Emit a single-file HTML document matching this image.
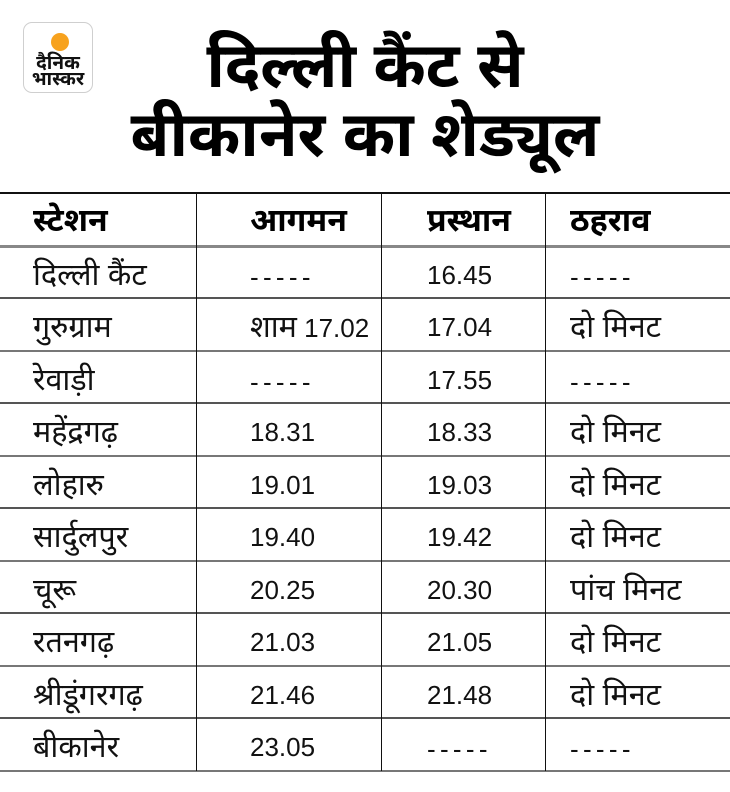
<!DOCTYPE html>
<html>
<head>
<meta charset="utf-8">
<style>
  html,body{margin:0;padding:0;background:#fff;}
  body{width:730px;height:792px;position:relative;overflow:hidden;
    font-family:"Liberation Sans","Noto Sans Devanagari","Lohit Devanagari","Mukta","Hind","FreeSans","Noto Sans CJK SC",sans-serif;color:#111;}
  .logo{position:absolute;left:23px;top:22px;width:70px;height:71px;border:1px solid #cfcfcf;border-radius:9px;box-sizing:border-box;background:#fff;}
  .sun{position:absolute;left:51px;top:33px;width:18px;height:18px;border-radius:50%;background:#f7a21e;}
  .lt{position:absolute;left:23px;width:70px;text-align:center;font-weight:bold;color:#111;font-size:19px;line-height:16px;}
  .title{position:absolute;left:0;width:730px;text-align:center;font-weight:bold;font-size:63px;line-height:69px;color:#000;white-space:nowrap;}
  .h{position:absolute;left:0;width:730px;height:2px;background:#555;}
  .v{position:absolute;top:193px;height:578px;width:1px;background:#111;}
  .c{position:absolute;font-size:26px;line-height:52px;white-space:nowrap;color:#111;margin-top:2px;}
  .c .d{font-size:30.5px;}
  .hd{font-weight:bold;line-height:53px;color:#000;font-size:32px;margin-top:1px;}
  .ds{letter-spacing:4.3px;margin-top:4px;}
</style>
</head>
<body>
  <div class="logo"></div>
  <div class="sun"></div>
  <div class="lt" style="top:56px;">दैनिक</div>
  <div class="lt" style="top:72px;">भास्कर</div>

  <div class="title" style="top:32px;">दिल्ली कैंट से</div>
  <div class="title" style="top:101px;">बीकानेर का शेड्यूल</div>

  <!-- horizontal lines -->
  <div class="h" style="top:192px;height:1.5px;background:#111;"></div>
  <div class="h" style="top:245px;height:3px;background:#888;"></div>
  <div class="h" style="top:297px;"></div>
  <div class="h" style="top:350px;background:#777;"></div>
  <div class="h" style="top:402px;"></div>
  <div class="h" style="top:455px;background:#777;"></div>
  <div class="h" style="top:507px;"></div>
  <div class="h" style="top:560px;background:#777;"></div>
  <div class="h" style="top:612px;"></div>
  <div class="h" style="top:665px;background:#777;"></div>
  <div class="h" style="top:717px;"></div>
  <div class="h" style="top:770px;background:#777;"></div>

  <!-- vertical lines -->
  <div class="v" style="left:196px;"></div>
  <div class="v" style="left:381px;"></div>
  <div class="v" style="left:545px;"></div>

  <!-- header -->
  <div class="c hd" style="left:33px;top:193px;">स्टेशन</div>
  <div class="c hd" style="left:250px;top:193px;">आगमन</div>
  <div class="c hd" style="left:427px;top:193px;">प्रस्थान</div>
  <div class="c hd" style="left:570px;top:193px;">ठहराव</div>

  <!-- rows -->
  <div class="c" style="left:33px;top:247px;"><span class="d">दिल्ली कैंट</span></div>
  <div class="c ds" style="left:250px;top:247px;">-----</div>
  <div class="c" style="left:427px;top:247px;">16.45</div>
  <div class="c ds" style="left:570px;top:247px;">-----</div>

  <div class="c" style="left:33px;top:299px;"><span class="d">गुरुग्राम</span></div>
  <div class="c" style="left:250px;top:299px;"><span class="d">शाम</span> 17.02</div>
  <div class="c" style="left:427px;top:299px;">17.04</div>
  <div class="c" style="left:570px;top:299px;"><span class="d">दो मिनट</span></div>

  <div class="c" style="left:33px;top:352px;"><span class="d">रेवाड़ी</span></div>
  <div class="c ds" style="left:250px;top:352px;">-----</div>
  <div class="c" style="left:427px;top:352px;">17.55</div>
  <div class="c ds" style="left:570px;top:352px;">-----</div>

  <div class="c" style="left:33px;top:404px;"><span class="d">महेंद्रगढ़</span></div>
  <div class="c" style="left:250px;top:404px;">18.31</div>
  <div class="c" style="left:427px;top:404px;">18.33</div>
  <div class="c" style="left:570px;top:404px;"><span class="d">दो मिनट</span></div>

  <div class="c" style="left:33px;top:457px;"><span class="d">लोहारु</span></div>
  <div class="c" style="left:250px;top:457px;">19.01</div>
  <div class="c" style="left:427px;top:457px;">19.03</div>
  <div class="c" style="left:570px;top:457px;"><span class="d">दो मिनट</span></div>

  <div class="c" style="left:33px;top:509px;"><span class="d">सार्दुलपुर</span></div>
  <div class="c" style="left:250px;top:509px;">19.40</div>
  <div class="c" style="left:427px;top:509px;">19.42</div>
  <div class="c" style="left:570px;top:509px;"><span class="d">दो मिनट</span></div>

  <div class="c" style="left:33px;top:562px;"><span class="d">चूरू</span></div>
  <div class="c" style="left:250px;top:562px;">20.25</div>
  <div class="c" style="left:427px;top:562px;">20.30</div>
  <div class="c" style="left:570px;top:562px;"><span class="d">पांच मिनट</span></div>

  <div class="c" style="left:33px;top:614px;"><span class="d">रतनगढ़</span></div>
  <div class="c" style="left:250px;top:614px;">21.03</div>
  <div class="c" style="left:427px;top:614px;">21.05</div>
  <div class="c" style="left:570px;top:614px;"><span class="d">दो मिनट</span></div>

  <div class="c" style="left:33px;top:667px;"><span class="d">श्रीडूंगरगढ़</span></div>
  <div class="c" style="left:250px;top:667px;">21.46</div>
  <div class="c" style="left:427px;top:667px;">21.48</div>
  <div class="c" style="left:570px;top:667px;"><span class="d">दो मिनट</span></div>

  <div class="c" style="left:33px;top:719px;"><span class="d">बीकानेर</span></div>
  <div class="c" style="left:250px;top:719px;">23.05</div>
  <div class="c ds" style="left:427px;top:719px;">-----</div>
  <div class="c ds" style="left:570px;top:719px;">-----</div>
</body>
</html>
